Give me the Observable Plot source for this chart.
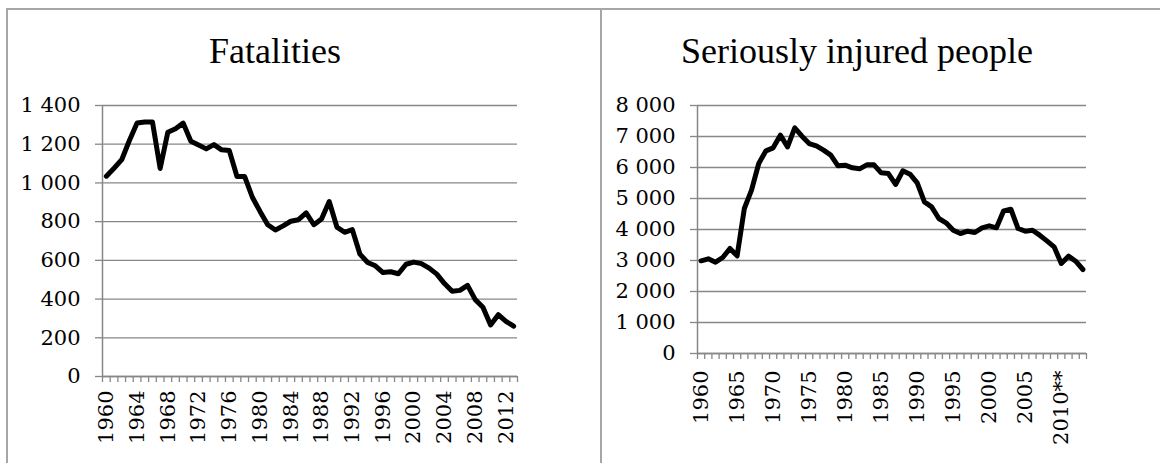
<!DOCTYPE html>
<html>
<head>
<meta charset="utf-8">
<script src="https://cdn.jsdelivr.net/npm/d3@7"></script>
<script src="https://cdn.jsdelivr.net/npm/@observablehq/plot@0.6"></script>
<style>
  html, body { margin: 0; padding: 0; background: #fff; }
  #wrap { position: relative; width: 1160px; height: 463px; overflow: hidden; background: #fff; }
  .title { position: absolute; top: 31px; width: 500px; text-align: center;
           font-family: "Liberation Serif", "DejaVu Serif", serif; font-size: 36px; line-height: 40px; color: #000; white-space: nowrap; }
  .panel { position: absolute; top: 71px; }
  .frame { position: absolute; background: #a6a6a6; }
</style>
</head>
<body>
<div id="wrap">
  <div class="frame" style="left:7px; top:8px; width:1153px; height:2px;"></div>
  <div class="frame" style="left:6px; top:8px; width:2px; height:455px;"></div>
  <div class="frame" style="left:600px; top:8px; width:2px; height:455px;"></div>
  <div class="title" id="t1" style="left:25px;"></div>
  <div class="title" id="t2" style="left:607px;"></div>
  <div class="panel" id="p1" style="left:0px;"></div>
  <div class="panel" id="p2" style="left:580px;"></div>
</div>
<script>
// ---- Data ----
const years = d3.range(1960, 2014);

const fatalities = [
  1035, 1076, 1120, 1219, 1310, 1315, 1315, 1075, 1262, 1280,
  1309, 1215, 1196, 1176, 1198, 1171, 1167, 1033, 1033, 926,
  853, 784, 757, 778, 802, 810, 845, 784, 814, 904,
  772, 745, 759, 632, 589, 572, 537, 541, 531, 580,
  591, 583, 560, 529, 480, 440, 445, 471, 397, 358,
  266, 319, 285, 260
];

const seriouslyInjured = [
  2990, 3054, 2946, 3097, 3387, 3150, 4677, 5269, 6129, 6538,
  6634, 7043, 6667, 7280, 7011, 6774, 6699, 6559, 6398, 6054,
  6075, 5989, 5957, 6086, 6086, 5828, 5806, 5452, 5892, 5785,
  5505, 4892, 4731, 4355, 4215, 3978, 3871, 3946, 3903, 4054,
  4118, 4054, 4602, 4656, 4032, 3946, 3978, 3817, 3634, 3441,
  2903, 3140, 2978, 2710
];

const titles = ["Fatalities", "Seriously injured people"];

const yTicksLeft = [0, 200, 400, 600, 800, 1000, 1200, 1400];
const yTicksRight = [0, 1000, 2000, 3000, 4000, 5000, 6000, 7000, 8000];

const xLabelYearsLeft = [1960, 1964, 1968, 1972, 1976, 1980, 1984, 1988, 1992, 1996, 2000, 2004, 2008, 2012];
const xLabelsLeft = ["1960", "1964", "1968", "1972", "1976", "1980", "1984", "1988", "1992", "1996", "2000", "2004", "2008", "2012"];

const xLabelYearsRight = [1960, 1965, 1970, 1975, 1980, 1985, 1990, 1995, 2000, 2005, 2010];
const xLabelsRight = ["1960", "1965", "1970", "1975", "1980", "1985", "1990", "1995", "2000", "2005", "2010**"];

// ---- Drawing ----
const GRAY = "#878787";
const FONT = "DejaVu Serif";
const FS = 21;
const fmtY = v => d3.format(",")(v).replace(/,/g, " ");
const boundaries = years.map(y => y - 0.5).concat([years[years.length - 1] + 0.5]);

function chart({values, yTicks, labelYears, labels, width, marginLeft, marginRight, marginBottom, labelPad}) {
  const xDomain = [years[0] - 0.5, years[years.length - 1] + 0.5];
  return Plot.plot({
    width,
    height: 392,
    marginTop: 34,
    marginLeft,
    marginRight,
    marginBottom,
    style: {fontFamily: FONT, fontSize: FS + "px", color: "#000", background: "transparent", overflow: "visible"},
    x: {type: "linear", domain: xDomain},
    y: {domain: [0, yTicks[yTicks.length - 1]]},
    marks: [
      Plot.gridY(yTicks, {stroke: GRAY, strokeOpacity: 1, strokeWidth: 1.3}),
      Plot.axisY({ticks: yTicks, tickSize: 7, tickPadding: 15, tickFormat: fmtY, stroke: GRAY, strokeWidth: 1.3,
                  fill: "#000", fontSize: FS, fontFamily: FONT, label: null}),
      Plot.axisX({ticks: boundaries, tickSize: 6, tickFormat: () => "", stroke: GRAY, strokeWidth: 1.3, label: null}),
      Plot.axisX({ticks: labelYears, tickSize: 0, tickPadding: labelPad, tickRotate: -90,
                  tickFormat: y => labels[labelYears.indexOf(y)], fill: "#000", fontSize: FS, fontFamily: FONT, label: null}),
      Plot.ruleX([xDomain[0]], {stroke: GRAY, strokeWidth: 1.5}),
      Plot.ruleY([0], {stroke: GRAY, strokeWidth: 1.5}),
      Plot.line(values, {x: (d, i) => years[i], y: d => d, stroke: "#000", strokeWidth: 5,
                         strokeLinejoin: "round", strokeLinecap: "round"})
    ]
  });
}

document.getElementById("t1").textContent = titles[0];
document.getElementById("t2").textContent = titles[1];

document.getElementById("p1").appendChild(chart({
  values: fatalities, yTicks: yTicksLeft, labelYears: xLabelYearsLeft, labels: xLabelsLeft,
  width: 580, marginLeft: 102, marginRight: 63, marginBottom: 87, labelPad: 14
}));

document.getElementById("p2").appendChild(chart({
  values: seriouslyInjured, yTicks: yTicksRight, labelYears: xLabelYearsRight, labels: xLabelsRight,
  width: 580, marginLeft: 117, marginRight: 74, marginBottom: 110, labelPad: 17
}));
</script>
</body>
</html>
